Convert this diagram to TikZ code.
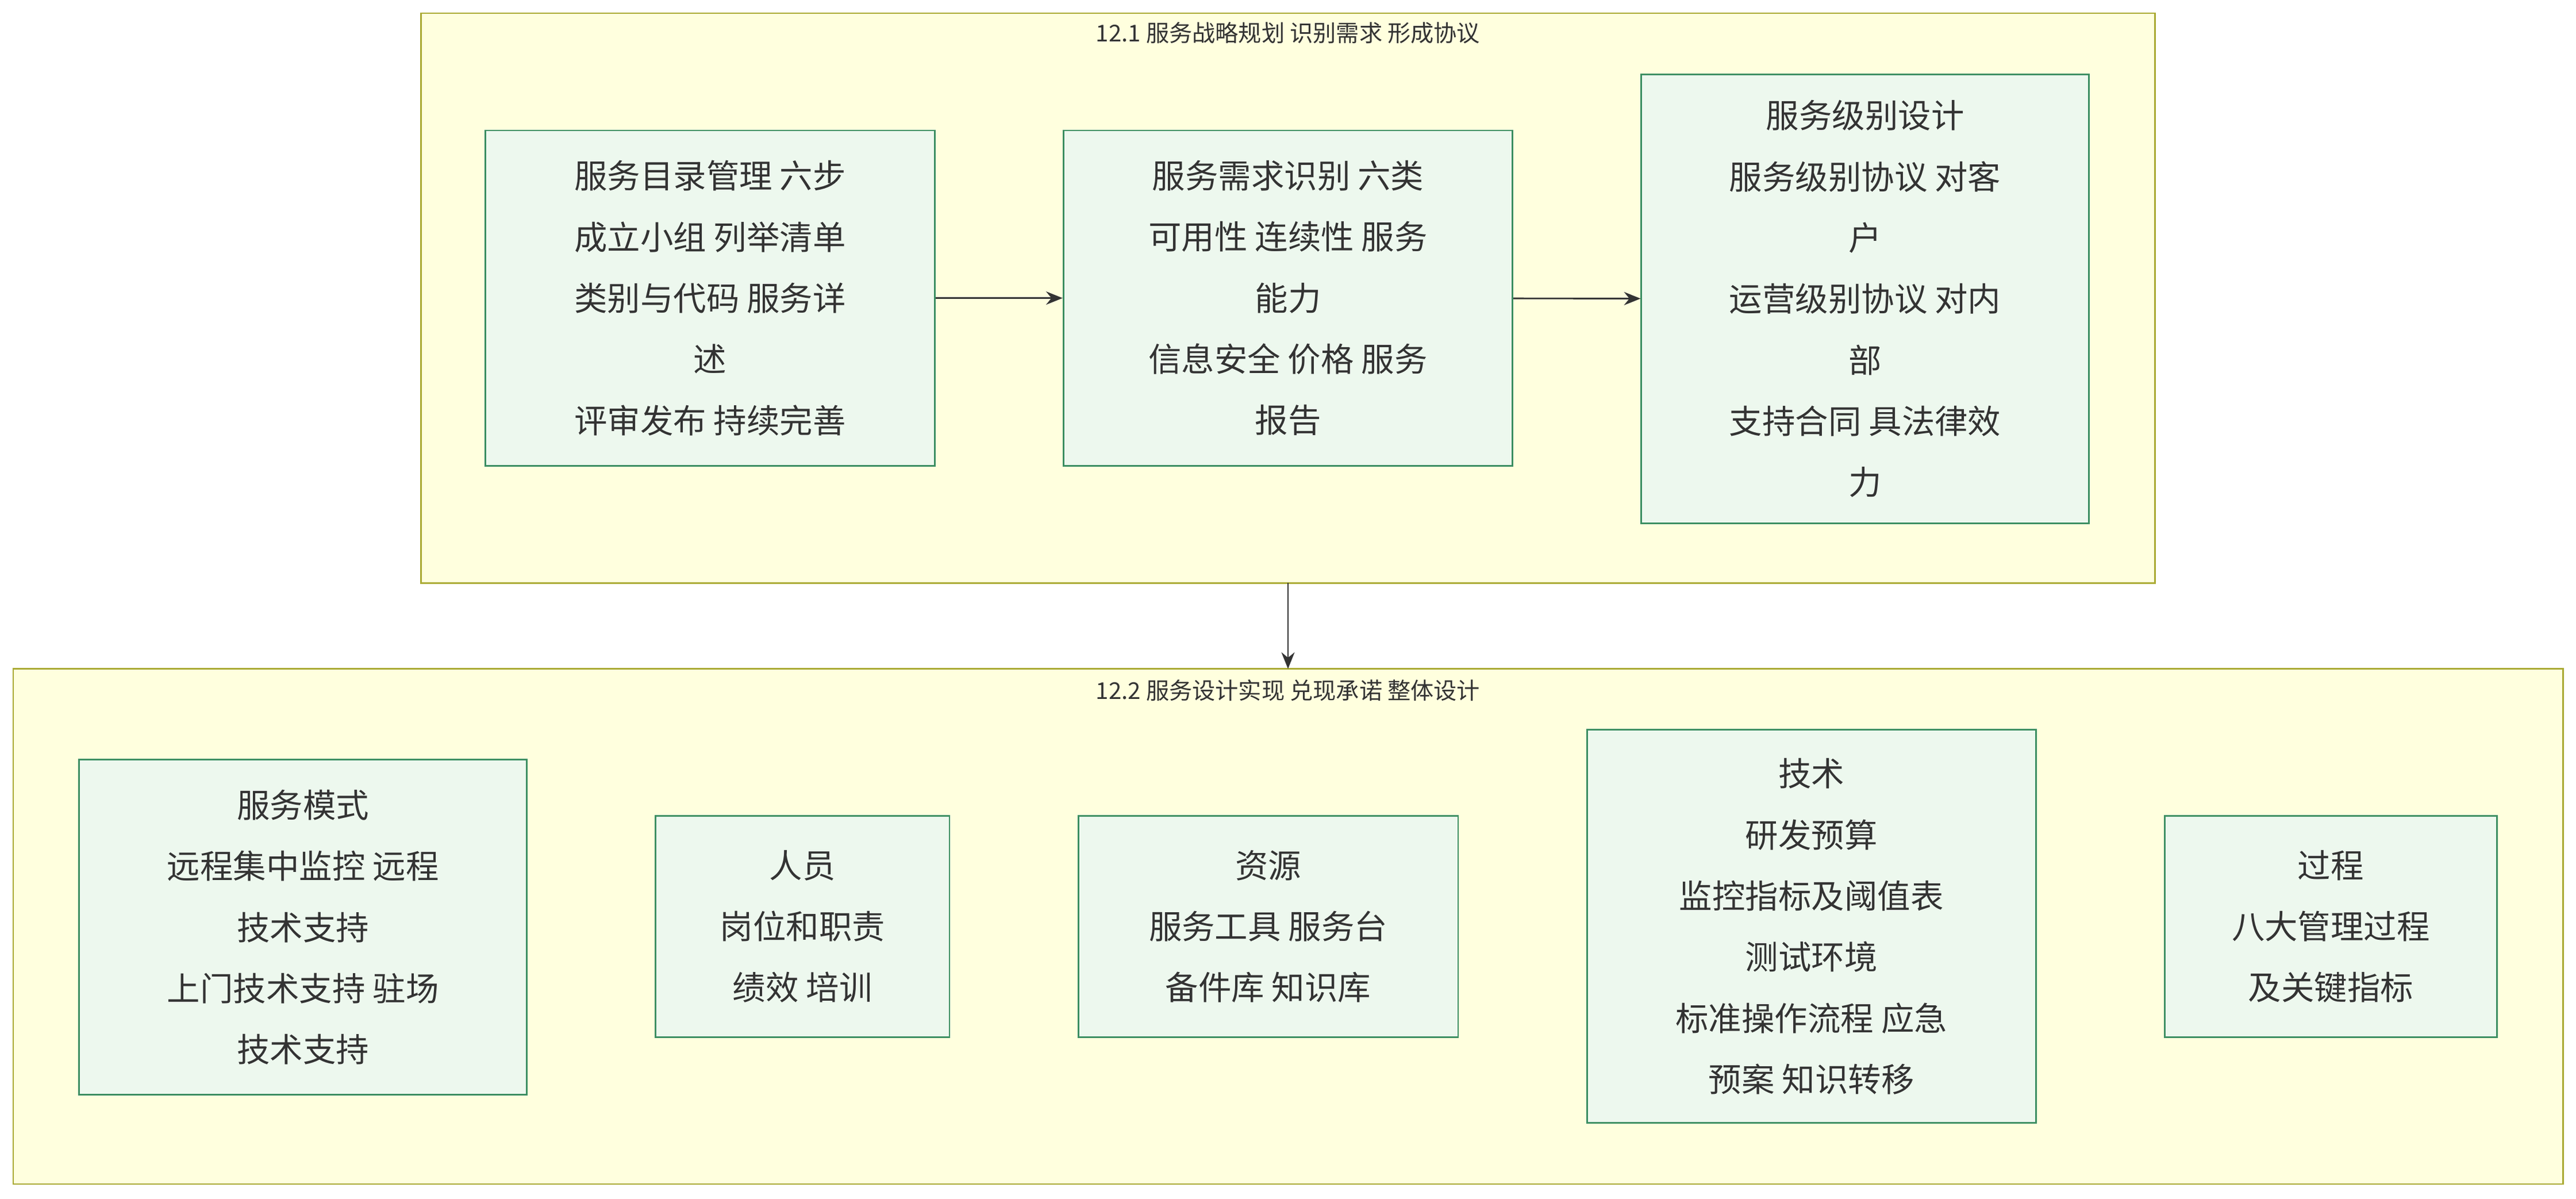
\documentclass[tikz,border=0pt]{standalone}
\usepackage{fontspec}
\setmainfont{Noto Sans CJK SC}
\usetikzlibrary{arrows.meta}
\definecolor{clfill}{HTML}{FFFFDE}
\definecolor{cldraw}{HTML}{AAAA33}
\definecolor{nfill}{HTML}{EDF8EE}
\definecolor{ndraw}{HTML}{3D8F63}
\definecolor{txt}{HTML}{333333}
\begin{document}
\begin{tikzpicture}[x=1pt,y=1pt,
  cluster/.style={draw=cldraw,fill=clfill,line width=1pt},
  ctitle/.style={text=txt,font=\fontsize{14}{16}\selectfont},
  box/.style={draw=ndraw,fill=nfill,line width=1pt,text=txt,align=center,font=\fontsize{20}{37}\selectfont,inner sep=0pt},
  arr/.style={draw=txt,line width=1pt,-{Stealth[length=10pt,width=8pt]}}]
\useasboundingbox (0,0) rectangle (1560,-726);
\draw[cluster] (255,-8) rectangle (1305,-353);
\node[ctitle] (t1) at (780,-20) {12.1 服务战略规划 识别需求 形成协议};
\draw[cluster] (8,-405) rectangle (1552,-717);
\node[ctitle] (t2) at (780,-418) {12.2 服务设计实现 兑现承诺 整体设计};
\coordinate (c1b) at (780,-353);
\coordinate (c2t) at (780,-405);
\node[box,minimum width=272,minimum height=203] (a) at (430,-180.5) {服务目录管理 六步\\成立小组 列举清单\\类别与代码 服务详\\述\\评审发布 持续完善};
\node[box,minimum width=272,minimum height=203] (b) at (780,-180.5) {服务需求识别 六类\\可用性 连续性 服务\\能力\\信息安全 价格 服务\\报告};
\node[box,minimum width=271,minimum height=272] (c) at (1129.5,-181) {服务级别设计\\服务级别协议 对客\\户\\运营级别协议 对内\\部\\支持合同 具法律效\\力};
\draw[arr] (a) -- (b);
\draw[arr] (b) -- (c);
\draw[arr] (c1b) -- (c2t);
\node[box,minimum width=271,minimum height=203] (d) at (183.5,-561.5) {服务模式\\远程集中监控 远程\\技术支持\\上门技术支持 驻场\\技术支持};
\node[box,minimum width=178,minimum height=134] (e) at (486,-561) {人员\\岗位和职责\\绩效 培训};
\node[box,minimum width=230,minimum height=134] (f) at (768,-561) {资源\\服务工具 服务台\\备件库 知识库};
\node[box,minimum width=272,minimum height=238] (g) at (1097,-561) {技术\\研发预算\\监控指标及阈值表\\测试环境\\标准操作流程 应急\\预案 知识转移};
\node[box,minimum width=201,minimum height=134] (h) at (1411.5,-561) {过程\\八大管理过程\\及关键指标};
\end{tikzpicture}
\end{document}
